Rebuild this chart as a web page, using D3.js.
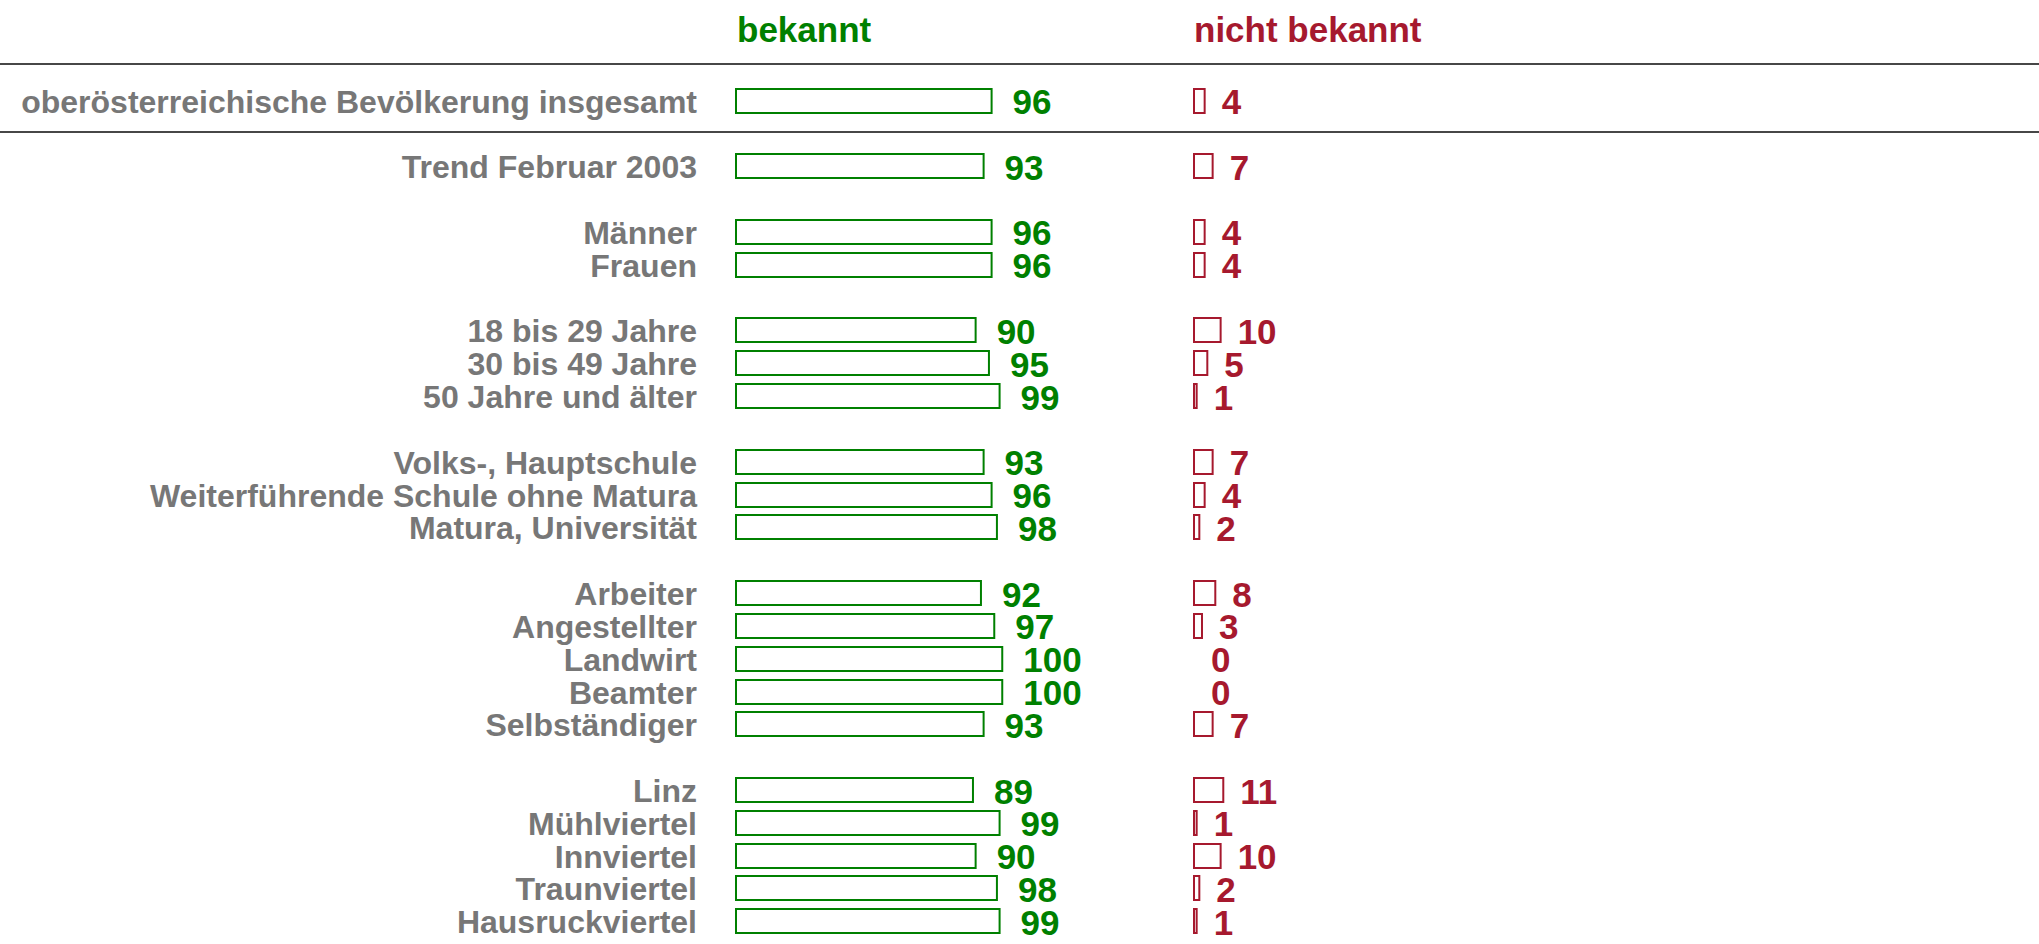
<!DOCTYPE html>
<html>
<head>
<meta charset="utf-8">
<script src="https://cdn.jsdelivr.net/npm/d3@7"></script>
<style>
  html, body { margin: 0; padding: 0; background: #fff; }
  svg text { font-family: "Liberation Sans", Arial, sans-serif; font-weight: bold; }
</style>
</head>
<body>
<svg id="chart" width="2039" height="944"></svg>
<script>
const headers = ["bekannt", "nicht bekannt"];
const categories = [
  "oberösterreichische Bevölkerung insgesamt",
  "Trend Februar 2003",
  "Männer", "Frauen",
  "18 bis 29 Jahre", "30 bis 49 Jahre", "50 Jahre und älter",
  "Volks-, Hauptschule", "Weiterführende Schule ohne Matura", "Matura, Universität",
  "Arbeiter", "Angestellter", "Landwirt", "Beamter", "Selbständiger",
  "Linz", "Mühlviertel", "Innviertel", "Traunviertel", "Hausruckviertel"
];
const groupSizes = [1, 1, 2, 3, 3, 5, 5];
const bekannt = [96, 93, 96, 96, 90, 95, 99, 93, 96, 98, 92, 97, 100, 100, 93, 89, 99, 90, 98, 99];
const nichtBekannt = [4, 7, 4, 4, 10, 5, 1, 7, 4, 2, 8, 3, 0, 0, 7, 11, 1, 10, 2, 1];

const GREEN = "#008000";
const RED = "#A6192E";
const GREY = "#777777";
const LINE = "#474747";

// slot index for each row: groups separated by one empty slot
const slots = [];
let s = 0;
groupSizes.forEach(n => { for (let i = 0; i < n; i++) slots.push(s++); s++; });

const rows = categories.map((c, i) => ({ cat: c, slot: slots[i], b: bekannt[i], n: nichtBekannt[i] }));

const svg = d3.select("#chart");
const y = d3.scaleLinear().domain([0, 25]).range([100.7, 921.3]);
const x = d3.scaleLinear().domain([0, 100]).range([0, 266.25]);

const gx0 = 735, rx0 = 1193;
const labelRight = 697;
const by = d => Math.round(y(d.slot) - 12);

// header texts
svg.append("text").attr("x", gx0 + 2).attr("y", 42).attr("fill", GREEN)
  .style("font-size", "35px").text(headers[0]);
svg.append("text").attr("x", rx0 + 1).attr("y", 42).attr("fill", RED)
  .style("font-size", "35px").text(headers[1]);

// separator lines
[64, 132].forEach(ly => {
  svg.append("line").attr("x1", 0).attr("x2", 2039).attr("y1", ly).attr("y2", ly)
    .attr("stroke", LINE).attr("stroke-width", 2);
});

const g = svg.append("g");

// category labels
g.selectAll("text.cat").data(rows).join("text").attr("class", "cat")
  .attr("x", labelRight).attr("y", d => y(d.slot) + 12)
  .attr("text-anchor", "end").attr("fill", GREY)
  .style("font-size", "32px").text(d => d.cat);

// bekannt bars
g.selectAll("rect.b").data(rows).join("rect").attr("class", "b")
  .attr("x", gx0 + 1).attr("y", by)
  .attr("width", d => x(d.b)).attr("height", 24)
  .attr("fill", "#fff").attr("stroke", GREEN).attr("stroke-width", 2);

g.selectAll("text.bv").data(rows).join("text").attr("class", "bv")
  .attr("x", d => gx0 + x(d.b) + 2 + 20).attr("y", d => y(d.slot) + 13.5)
  .attr("fill", GREEN).style("font-size", "35px").text(d => d.b);

// nicht bekannt bars
g.selectAll("rect.n").data(rows.filter(d => d.n > 0)).join("rect").attr("class", "n")
  .attr("x", rx0 + 1).attr("y", by)
  .attr("width", d => x(d.n)).attr("height", 24)
  .attr("fill", "#fff").attr("stroke", RED).attr("stroke-width", 2);

g.selectAll("text.nv").data(rows).join("text").attr("class", "nv")
  .attr("x", d => rx0 + x(d.n) + 2 + 16).attr("y", d => y(d.slot) + 13.5)
  .attr("fill", RED).style("font-size", "35px").text(d => d.n);
</script>
</body>
</html>
